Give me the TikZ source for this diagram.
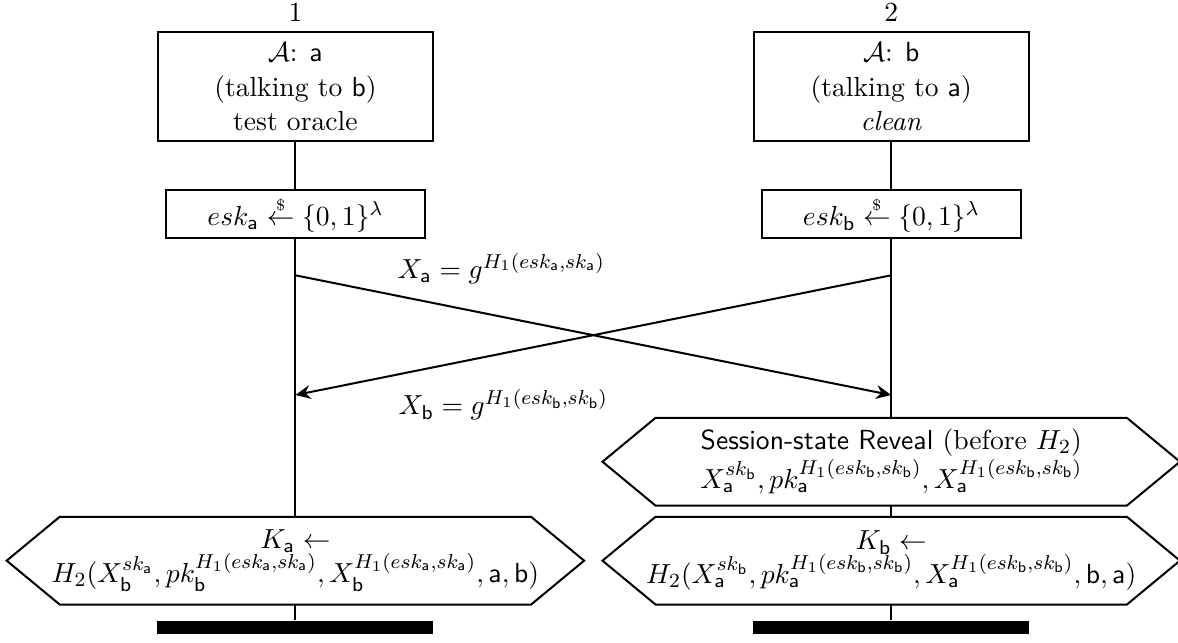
\documentclass[tikz,border=0pt,11pt]{standalone}
\usepackage{amsmath}
\usetikzlibrary{arrows.meta}

\newcommand{\ida}{\mathsf{a}}
\newcommand{\idb}{\mathsf{b}}
\newcommand{\sampleto}{\stackrel{\scriptscriptstyle\$}{\leftarrow}}
% six-sided frame round a named node
\newcommand{\hexframe}[1]{%
  \draw[thick] (#1.west) -- ([xshift=0.74cm]#1.north west) -- ([xshift=-0.74cm]#1.north east)
    -- (#1.east) -- ([xshift=-0.74cm]#1.south east) -- ([xshift=0.74cm]#1.south west) -- cycle;}

\tikzset{
  stepbox/.style={draw, thick, align=center, inner sep=2pt},
  hexbox/.style={align=center, minimum width=8.04cm, minimum height=1.21cm, inner sep=0pt},
  endbar/.style={fill=black, minimum width=3.85cm, minimum height=0.18cm, inner sep=0pt},
  lifeline/.style={thick},
  msg/.style={thick, -{Stealth[length=6pt, width=5.5pt, inset=2pt]}},
}

\begin{document}
\begin{tikzpicture}
        \useasboundingbox (0,0) rectangle (16.43,8.96);
        \node (p1) at (4.12, 8.79) {1};
        \node (p2) at (12.43, 8.79) {2};
        \node[stepbox, minimum width=3.84cm, minimum height=1.52cm] (adv1) at (4.12, 7.75)
            {$\mathcal{A}$: $\ida$\\ (talking to $\idb$)\\ test oracle};
        \node[stepbox, minimum width=3.84cm, minimum height=1.52cm] (adv2) at (12.43, 7.75)
            {$\mathcal{A}$: $\idb$\\ (talking to $\ida$)\\ \emph{clean}};
        \node[stepbox, minimum width=3.61cm, minimum height=0.67cm] (esk1) at (4.12, 5.97)
            {$esk_{\ida} \sampleto \{0,1\}^{\lambda}$};
        \node[stepbox, minimum width=3.61cm, minimum height=0.67cm] (esk2) at (12.43, 5.97)
            {$esk_{\idb} \sampleto \{0,1\}^{\lambda}$};
        \coordinate (sa) at (4.12, 5.12);
        \coordinate (sb) at (12.43, 5.12);
        \coordinate (ra) at (4.12, 3.45);
        \coordinate (rb) at (12.43, 3.45);
        \node (xa) at (6.99, 5.22) {$X_{\ida} = g^{H_1(esk_{\ida}, sk_{\ida})}$};
        \node (xb) at (7.02, 3.31) {$X_{\idb} = g^{H_1(esk_{\idb}, sk_{\idb})}$};
        \node[hexbox] (rev) at (12.43, 2.52)
            {\textsf{Session-state Reveal} (before $H_2$)\\
             $X_{\ida}^{sk_{\idb}}, pk_{\ida}^{H_1(esk_{\idb}, sk_{\idb})}, X_{\ida}^{H_1(esk_{\idb}, sk_{\idb})}$};
        \node[hexbox] (ka) at (4.12, 1.14)
            {$K_{\ida} \leftarrow$\\
             $H_2(X_{\idb}^{sk_{\ida}}, pk_{\idb}^{H_1(esk_{\ida}, sk_{\ida})}, X_{\idb}^{H_1(esk_{\ida}, sk_{\ida})}, \ida, \idb)$};
        \node[hexbox] (kb) at (12.43, 1.14)
            {$K_{\idb} \leftarrow$\\
             $H_2(X_{\ida}^{sk_{\idb}}, pk_{\ida}^{H_1(esk_{\idb}, sk_{\idb})}, X_{\ida}^{H_1(esk_{\idb}, sk_{\idb})}, \idb, \ida)$};
        \hexframe{rev}
        \hexframe{ka}
        \hexframe{kb}
        \node[endbar] (end1) at (4.12, 0.21) {};
        \node[endbar] (end2) at (12.43, 0.21) {};
        \draw[lifeline] (adv1) -- (esk1);
        \draw[lifeline] (esk1) -- (ka);
        \draw[lifeline] (ka) -- (end1);
        \draw[lifeline] (adv2) -- (esk2);
        \draw[lifeline] (esk2) -- (rev);
        \draw[lifeline] (rev) -- (kb);
        \draw[lifeline] (kb) -- (end2);
        \draw[msg] (sa) -- (rb);
        \draw[msg] (sb) -- (ra);
        \end{tikzpicture}
\end{document}
